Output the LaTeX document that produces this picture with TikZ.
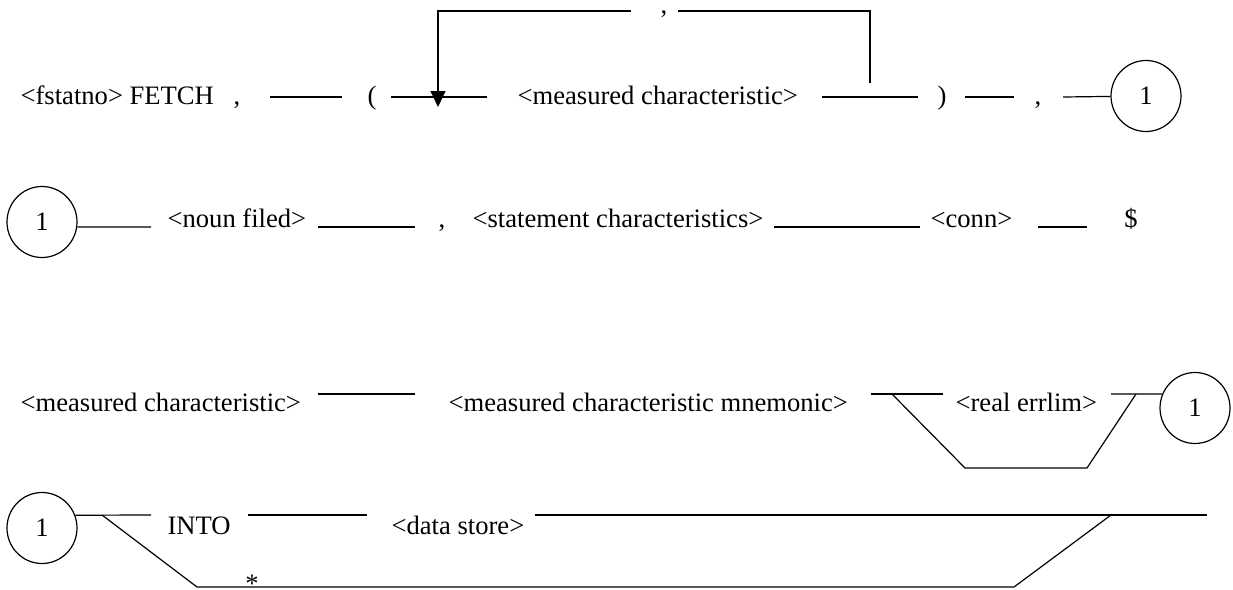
\documentclass[tikz,border=0pt]{standalone}
\usepackage{fontspec}
\setmainfont{Liberation Serif}
\usetikzlibrary{arrows.meta,shapes.geometric}

\begin{document}
\begin{tikzpicture}[x=1pt,y=-1pt,line width=1.2pt,
    word/.style={anchor=base,inner sep=0pt,font=\fontsize{26.6}{30}\selectfont},
    linkmark/.style={draw,ellipse,minimum width=70pt,minimum height=71pt,inner sep=0pt,font=\fontsize{26.6}{30}\selectfont}]
    \useasboundingbox (0,0) rectangle (1233,589);

    % first line
    \node[word,anchor=base west] (fetch) at (20,104) {<fstatno> FETCH};
    \node[word] (comma1) at (237,104) {,};
    \coordinate (a1) at (270,97);
    \coordinate (a2) at (342,97);
    \node[word] (lpar) at (372,104) {(};
    \coordinate (a3) at (391,97);
    \coordinate (a4) at (487,97);
    \node[word,anchor=base west] (meas1) at (517,104) {<measured characteristic>};
    \coordinate (a5) at (822,97);
    \coordinate (a6) at (918,97);
    \node[word] (rpar) at (942,104) {)};
    \coordinate (a7) at (965,97);
    \coordinate (a8) at (1014,97);
    \node[word] (comma2) at (1038,104) {,};
    \coordinate (a9) at (1063,97);
    \node[linkmark] (link1) at (1146,96) {1};

    \coordinate (top1) at (438,11);
    \coordinate (tip) at (438,107);
    \coordinate (top2) at (631,11);
    \node[word] (comma3) at (664,13) {,};
    \coordinate (top3) at (678,11);
    \coordinate (top4) at (870,11);
    \coordinate (back) at (870,83);

    \draw (a1) -- (a2);
    \draw (a3) -- (a4);
    \draw (a5) -- (a6);
    \draw (a7) -- (a8);
    \draw (a9) -- (link1);
    \draw[-{Triangle[length=16pt,width=15pt]}] (top2) -- (top1) -- (tip);
    \draw (top3) -- (top4) -- (back);

    % second line
    \node[linkmark] (link2) at (42,222) {1};
    \coordinate (b2) at (151,227);
    \node[word,anchor=base west] (noun) at (167,227) {<noun filed>};
    \coordinate (b3) at (318,227);
    \coordinate (b4) at (415,227);
    \node[word] (comma4) at (442,227) {,};
    \node[word,anchor=base west] (stmt) at (472,227) {<statement characteristics>};
    \coordinate (b5) at (774,227);
    \coordinate (b6) at (920,227);
    \node[word,anchor=base west] (conn) at (930,227) {<conn>};
    \coordinate (b7) at (1038,227);
    \coordinate (b8) at (1087,227);
    \node[word] (dollar) at (1131,227) {\$};

    \draw (link2.-8) -- (b2);
    \draw (b3) -- (b4);
    \draw (b5) -- (b6);
    \draw (b7) -- (b8);

    % third line
    \node[word,anchor=base west] (meas2) at (20,411) {<measured characteristic>};
    \coordinate (d1) at (318,394);
    \coordinate (d2) at (415,394);
    \node[word,anchor=base west] (mnem) at (448,411) {<measured characteristic mnemonic>};
    \coordinate (d3) at (871,394);
    \coordinate (d4) at (892,394);
    \coordinate (d5) at (943,394);
    \node[word,anchor=base west] (errlim) at (955,411) {<real errlim>};
    \coordinate (d6) at (1111,394);
    \coordinate (d7) at (1136,394);
    \coordinate (d8) at (965,468);
    \coordinate (d9) at (1087,468);
    \node[linkmark] (link3) at (1195,408) {1};

    \draw (d1) -- (d2);
    \draw (d3) -- (d5);
    \draw (d4) -- (d8) -- (d9) -- (d7);
    \draw (d6) -- (link3.157);

    % fourth line
    \node[linkmark] (link4) at (42,528) {1};
    \coordinate (e1) at (102,515);
    \coordinate (e2) at (151,515);
    \node[word,anchor=base west] (into) at (167,534) {INTO};
    \coordinate (e3) at (248,515);
    \coordinate (e4) at (367,515);
    \node[word,anchor=base west] (store) at (391,534) {<data store>};
    \coordinate (e5) at (535,515);
    \coordinate (e6) at (1111,515);
    \coordinate (e7) at (1207,515);
    \coordinate (e8) at (197,587);
    \coordinate (e9) at (1014,587);
    \node[word] (star) at (252,592) {*};

    \draw (link4.21) -- (e2);
    \draw (e1) -- (e8) -- (e9) -- (e6);
    \draw (e3) -- (e4);
    \draw (e5) -- (e7);
\end{tikzpicture}
\end{document}
